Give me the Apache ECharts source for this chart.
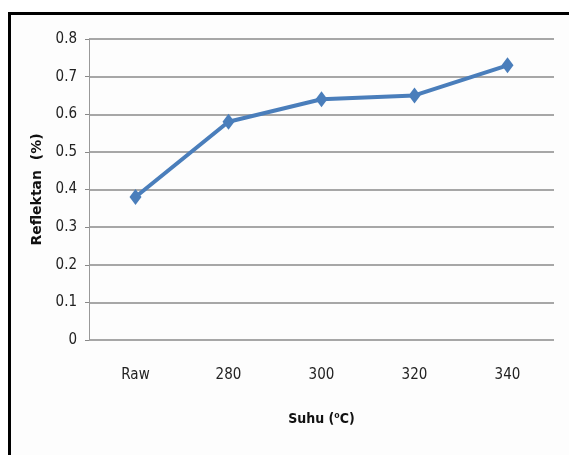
<!DOCTYPE html>
<html><head><meta charset="utf-8">
<script src="https://cdn.jsdelivr.net/npm/echarts@6/dist/echarts.min.js"></script>
<style>html,body{margin:0;padding:0;background:#fff}#c{width:569px;height:455px}</style>
</head><body><div id="c"></div>
<script>
const categories = ['Raw', '280', '300', '320', '340'];
const reflektan = [0.38, 0.58, 0.64, 0.65, 0.73];
const yTicks = { min: 0, max: 0.8, interval: 0.1 };
const xTitle = 'Suhu (\u2070C)';
const yTitle = 'Reflektan  (%)';

const chart = echarts.init(document.getElementById('c'), null, { renderer: 'canvas' });
const lblFont = '"DejaVu Sans Condensed", "Liberation Sans Narrow", sans-serif';
chart.setOption({
  animation: false,
  backgroundColor: '#fff',
  graphic: [{
    type: 'rect', z: -1, silent: true,
    shape: { x: 9.5, y: 13.5, width: 600, height: 500 },
    style: { fill: '#fdfdfd', stroke: '#000', lineWidth: 3 }
  }],
  grid: { left: 89, right: 15, top: 39, bottom: 115, containLabel: false },
  xAxis: {
    type: 'category', data: categories, boundaryGap: true,
    axisLine: { show: false },
    axisTick: { show: false },
    axisLabel: { margin: 28, color: '#222', fontSize: 15, fontFamily: lblFont },
    name: xTitle, nameLocation: 'middle', nameGap: 72,
    nameTextStyle: { color: '#111', fontSize: 14, fontWeight: 'bold', fontFamily: lblFont }
  },
  yAxis: {
    type: 'value', min: yTicks.min, max: yTicks.max, interval: yTicks.interval,
    axisLine: { show: true, lineStyle: { color: '#999', width: 1 } },
    axisTick: { show: true, length: 4, lineStyle: { color: '#888' } },
    axisLabel: { margin: 12, color: '#222', fontSize: 15, fontFamily: lblFont, formatter: v => String(Math.round(v*10)/10) },
    splitLine: { show: true, lineStyle: { color: '#8a8a8a', width: 1.5 } },
    name: yTitle, nameLocation: 'middle', nameGap: 41, nameRotate: 90,
    nameTextStyle: { color: '#111', fontSize: 14, fontWeight: 'bold', fontFamily: '"DejaVu Sans", sans-serif' }
  },
  series: [{
    type: 'line', data: reflektan,
    symbol: 'diamond', symbolSize: [12, 16],
    lineStyle: { color: '#4a7ebb', width: 4 },
    itemStyle: { color: '#4a7ebb' }
  }]
});
</script></body></html>
